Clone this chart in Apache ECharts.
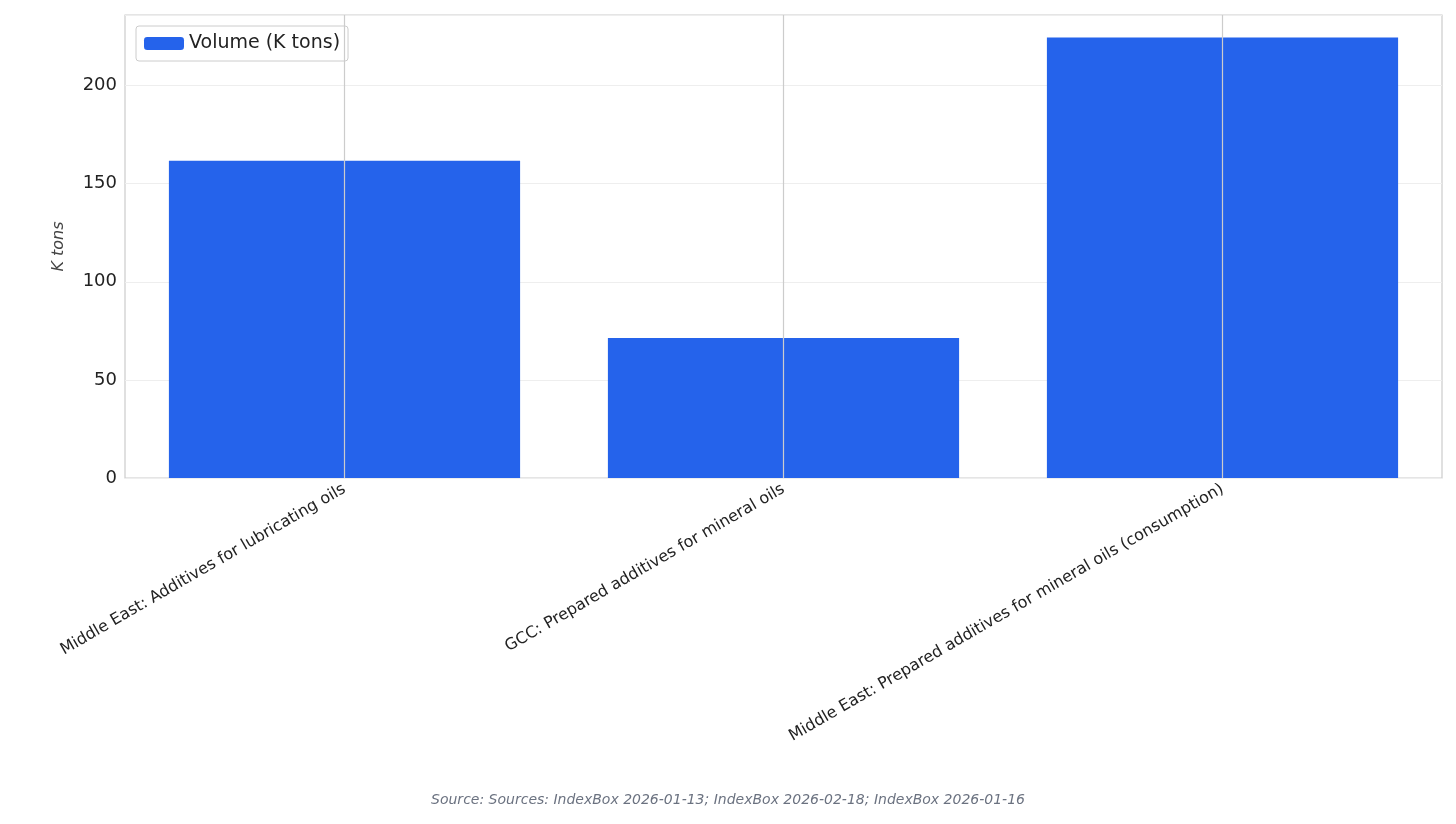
<!DOCTYPE html>
<html><head><meta charset="utf-8">
<script src="https://cdn.jsdelivr.net/npm/echarts@6/dist/echarts.min.js"></script>
<style>html,body{margin:0;padding:0;background:#fff}#c{width:1456px;height:824px}</style>
</head><body><div id="c"></div>
<script>
const categories = ["Middle East: Additives for lubricating oils","GCC: Prepared additives for mineral oils","Middle East: Prepared additives for mineral oils (consumption)"];
const volumes = [161.7, 71.4, 224.5];
const yTicks = [0, 50, 100, 150, 200];
const chart = echarts.init(document.getElementById('c'));
chart.setOption({
  animation:false,
  grid:{left:125,right:14,top:15,bottom:346,show:true,borderColor:'#cccccc',borderWidth:1.2},
  legend:{left:136,top:26,itemWidth:40,itemHeight:13,padding:[8,8],borderColor:'#cccccc',borderWidth:1,borderRadius:3,
    textStyle:{fontSize:19,color:'#222',fontFamily:'DejaVu Sans'},data:['Volume (K tons)']},
  xAxis:{type:'category',data:categories,axisLine:{show:false},axisTick:{show:false},
    axisLabel:{rotate:30,fontSize:16,color:'#222',fontFamily:'DejaVu Sans',interval:0,margin:10}},
  yAxis:{type:'value',min:0,max:236,interval:50,name:'K tons',nameLocation:'middle',nameGap:58,
    nameTextStyle:{fontSize:16,color:'#444',fontStyle:'italic',fontFamily:'DejaVu Sans'},
    axisLabel:{fontSize:18,color:'#222',fontFamily:'DejaVu Sans',showMaxLabel:false,
      formatter:v=>yTicks.includes(v)?String(v):''},
    axisLine:{show:false},axisTick:{show:false},splitLine:{lineStyle:{color:'#eeeeee',width:1.2}}},
  series:[
    {type:'line',data:[],silent:true,z:1,
     markLine:{symbol:'none',silent:true,label:{show:false},lineStyle:{color:'#cccccc',type:'solid',width:1.2},
       data:categories.map(c=>({xAxis:c}))}},
    {name:'Volume (K tons)',type:'bar',data:volumes,barWidth:'80%',z:3,itemStyle:{color:'#2563eb'}}
  ],
  graphic:[{type:'text',left:'center',top:793,style:{text:'Source: Sources: IndexBox 2026-01-13; IndexBox 2026-02-18; IndexBox 2026-01-16',
    fontSize:14,fill:'#6b7280',fontStyle:'italic',fontFamily:'DejaVu Sans'}}]
});
</script></body></html>
